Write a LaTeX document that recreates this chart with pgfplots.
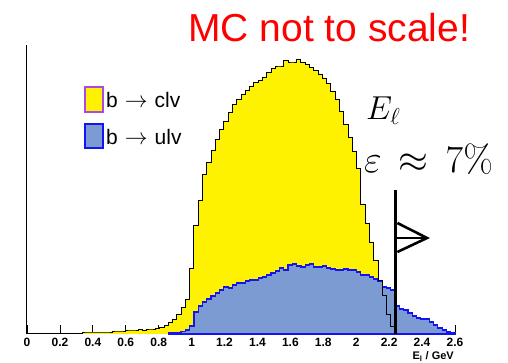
\documentclass[border=0pt]{standalone}
\usepackage{graphicx}
\usepackage{pgfplots}
\pgfplotsset{compat=1.18}
\usepackage{pgfplotstable}
\usepackage[no-math]{fontspec}
\setmainfont{Liberation Sans}
\definecolor{ublue}{RGB}{123,155,210}
\definecolor{uline}{RGB}{20,20,240}
\definecolor{legpurple}{RGB}{175,70,230}
\definecolor{mcred}{RGB}{255,0,0}

\pgfplotstableread{
x y
0.338 0
0.338 2
0.364 2
0.390 2
0.416 2
0.442 2
0.468 2
0.494 2
0.520 3
0.546 3
0.572 3
0.598 4
0.624 4
0.650 4
0.676 5
0.702 4
0.728 5
0.754 5
0.780 6
0.806 7
0.832 9
0.858 12
0.884 15
0.910 20
0.936 27
0.962 35
0.988 66
1.014 109
1.040 134
1.066 160
1.092 172
1.118 184
1.144 195
1.170 205
1.196 213
1.222 222
1.248 230
1.274 235
1.300 240
1.326 244
1.352 248
1.378 252
1.404 254
1.430 257
1.456 262
1.482 266
1.508 268
1.534 268
1.560 274
1.586 272
1.612 272
1.638 275
1.664 272
1.690 270
1.716 267
1.742 264
1.768 260
1.794 256
1.820 251
1.846 243
1.872 235
1.898 223
1.924 210
1.950 197
1.976 183
2.002 166
2.028 130
2.054 111
2.080 92
2.106 74
2.132 54
2.158 39
2.184 20
2.210 8
2.236 0
}\clv

\pgfplotstableread{
x y
0.858 0
0.858 1
0.884 1
0.910 1.5
0.936 2.7
0.962 4
0.988 8
1.014 22
1.040 28
1.066 32
1.092 35
1.118 38
1.144 41
1.170 44
1.196 47
1.222 46
1.248 49
1.274 51
1.300 51
1.326 53
1.352 54
1.378 54
1.404 56
1.430 57
1.456 59
1.482 61
1.508 63
1.534 66
1.560 64
1.586 69
1.612 70
1.638 68
1.664 67
1.690 69
1.716 70
1.742 67
1.768 67
1.794 68
1.820 66
1.846 65
1.872 64
1.898 64
1.924 65
1.950 64
1.976 64
2.002 62
2.028 59
2.054 59
2.080 57
2.106 55
2.132 53
2.158 47
2.184 46
2.210 44
2.236 28
2.262 25
2.288 24
2.314 21
2.340 18
2.366 16
2.392 15
2.418 15
2.444 12
2.470 9
2.496 6
2.522 4
2.548 2
2.574 1
2.600 0
}\ulv

\begin{document}
\begin{tikzpicture}[x=1pt,y=1pt]
\useasboundingbox (0,0) rectangle (508,363);
\begin{axis}[
  at={(27pt,29pt)}, anchor=south west,
  scale only axis, width=428pt, height=289pt,
  xmin=0, xmax=2.6, ymin=0, ymax=289,
  axis x line=bottom, axis y line=left,
  axis line style={-, line width=1pt},
  every outer x axis line/.append style={-},
  every outer y axis line/.append style={-},
  ytick=\empty,
  xtick={0,0.2,0.4,0.6,0.8,1,1.2,1.4,1.6,1.8,2,2.2,2.4,2.6},
  xticklabels={0,0.2,0.4,0.6,0.8,1,1.2,1.4,1.6,1.8,2,2.2,2.4,2.6},
  tick align=inside, major tick length=9pt,
  xtick style={black, line width=0.8pt},
  xticklabel style={font=\fontsize{12}{12}\selectfont\bfseries, inner sep=0pt, yshift=-4pt},
  /pgf/number format/assume math mode=true,
  clip=false,
]
\addplot[fill=yellow, draw=none, const plot] table[x=x,y=y] {\clv} \closedcycle;
\addplot[fill=ublue, draw=uline, line width=1.2pt, const plot] table[x=x,y=y] {\ulv} \closedcycle;
\addplot[draw=black, line width=0.9pt, const plot] table[x=x,y=y] {\clv};
\draw[line width=3.5pt] (axis cs:2.24,0) -- (axis cs:2.24,144);
\draw[line width=2.6pt, line join=miter] (axis cs:2.25,111) -- (axis cs:2.43,96) -- (axis cs:2.25,82);
\draw[line width=2.6pt] (axis cs:2.24,96) -- (axis cs:2.43,96);
\end{axis}
% legend
\draw[legpurple, line width=1.2pt, fill=yellow] (85,251) rectangle (103,276);
\draw[uline, line width=1.2pt, fill=ublue] (85,215) rectangle (103,239);
\node[anchor=base west, inner sep=0pt, font=\fontsize{21}{21}\selectfont] at (106,255) {b\,\,\scalebox{1.1}{$\rightarrow$}\,\,clv};
\node[anchor=base west, inner sep=0pt, font=\fontsize{21}{21}\selectfont] at (106,218) {b\,\,\scalebox{1.1}{$\rightarrow$}\,\,ulv};
% title
\node[anchor=base west, inner sep=0pt, text=mcred, font=\fontsize{39}{39}\selectfont] at (188,321) {MC not to scale!};
% annotations
\node[anchor=base west, inner sep=0pt] at (366,243) {\scalebox{1.6}{\huge $E_\ell$}};
\node[anchor=base west, inner sep=0pt] at (364,190) {\scalebox{1.85}{\huge $\varepsilon\,\approx\,7\%$}};
% x label
\node[anchor=base east, inner sep=0pt, font=\fontsize{11}{11}\selectfont\bfseries] at (454,3) {E\textsubscript{l} / GeV};
\end{tikzpicture}
\end{document}
